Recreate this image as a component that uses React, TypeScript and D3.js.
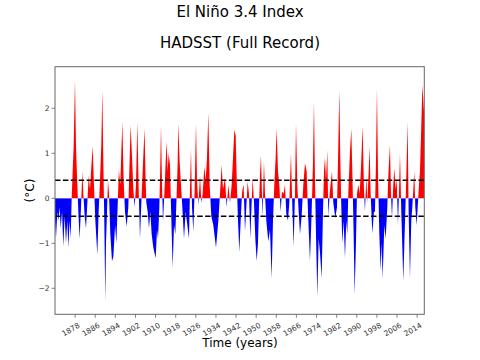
import React from "react";
import * as d3 from "d3";

// Niño 3.4 anomaly (°C)
const years = [
  1870.0, 1870.4, 1870.93, 1871.33, 1871.86, 1872.25, 1872.8, 1873.3, 1873.84, 1874.37,
  1874.9, 1875.3, 1875.83, 1876.23, 1876.63, 1877.02, 1877.42, 1877.95, 1878.35, 1878.88,
  1879.28, 1879.8, 1880.34, 1880.87, 1881.27, 1881.8, 1882.33, 1882.86, 1883.39, 1883.92,
  1884.45, 1884.98, 1885.5, 1886.04, 1886.83, 1887.36, 1887.9, 1888.42, 1888.82, 1889.22,
  1889.6, 1890.0, 1890.28, 1890.68, 1891.07, 1891.47, 1892.0, 1892.66, 1893.2, 1893.9,
  1894.4, 1894.9, 1895.4, 1895.96, 1896.77, 1897.3, 1897.83, 1898.5, 1899.15, 1899.55,
  1900.08, 1900.6, 1901.15, 1901.68, 1902.2, 1902.74, 1903.27, 1903.8, 1904.33, 1904.86,
  1905.6, 1906.0, 1906.32, 1906.85, 1907.38, 1907.9, 1908.44, 1909.1, 1910.03, 1910.56,
  1910.96, 1911.49, 1911.89, 1912.15, 1912.55, 1912.95, 1913.48, 1914.0, 1914.4, 1914.8,
  1915.2, 1915.73, 1916.13, 1916.79, 1917.32, 1917.85, 1918.38, 1918.78, 1919.04, 1919.57,
  1920.1, 1920.63, 1921.3, 1921.96, 1922.62, 1923.28, 1923.68, 1924.08, 1924.48, 1925.0,
  1925.54, 1926.07, 1926.47, 1927.0, 1927.66, 1928.19, 1928.72, 1929.38, 1929.9, 1930.44,
  1930.97, 1931.5, 1932.16, 1932.96, 1934.02, 1934.95, 1935.61, 1936.27, 1936.8, 1937.6,
  1938.26, 1938.93, 1939.59, 1940.25, 1940.78, 1941.31, 1941.84, 1942.37, 1942.77, 1943.3,
  1943.83, 1944.36, 1944.62, 1945.0, 1945.55, 1946.08, 1946.6, 1947.14, 1947.67, 1948.2,
  1948.6, 1949.13, 1949.66, 1950.19, 1950.72, 1951.11, 1951.51, 1951.91, 1952.3, 1952.57,
  1952.84, 1953.1, 1953.5, 1954.03, 1954.83, 1955.49, 1956.15, 1956.68, 1957.21, 1957.74,
  1958.14, 1958.67, 1959.2, 1959.73, 1960.26, 1960.92, 1961.45, 1961.98, 1962.65, 1963.18,
  1963.84, 1964.37, 1964.9, 1965.43, 1965.83, 1966.36, 1966.89, 1967.42, 1968.08, 1968.74,
  1969.4, 1970.07, 1970.6, 1971.39, 1972.06, 1972.59, 1972.98, 1973.38, 1973.78, 1974.31,
  1974.84, 1975.37, 1976.03, 1976.56, 1976.96, 1977.36, 1977.75, 1978.28, 1978.68, 1979.21,
  1980.14, 1980.67, 1981.47, 1982.13, 1982.53, 1983.06, 1983.45, 1983.85, 1984.25, 1984.78,
  1985.31, 1985.84, 1986.23, 1986.63, 1987.3, 1987.82, 1988.35, 1988.75, 1989.15, 1989.68,
  1990.08, 1990.6, 1991.14, 1991.67, 1992.33, 1992.86, 1993.26, 1993.79, 1994.19, 1994.72,
  1995.11, 1995.51, 1996.17, 1996.84, 1997.23, 1997.63, 1998.03, 1998.43, 1998.96, 1999.49,
  1999.89, 2000.28, 2000.95, 2001.48, 2002.14, 2002.54, 2003.2, 2003.6, 2004.0, 2004.52,
  2004.92, 2005.45, 2005.85, 2006.38, 2006.78, 2007.18, 2007.7, 2008.5, 2009.03, 2009.56,
  2010.22, 2010.62, 2011.15, 2011.68, 2012.08, 2012.48, 2012.87, 2013.27, 2013.8, 2014.33,
  2014.73, 2015.13, 2015.6, 2016.1, 2016.85,
];

const anomaly = [
  -0.5, -0.89, -0.3, -0.5, -0.2, -0.67, -0.3, -1.07, -0.4, -1.0,
  -0.5, -1.1, -0.5, -0.9, 0.0, 0.6, 1.15, 2.63, 1.15, 0.3,
  -0.3, -0.9, -0.2, 0.6, 0.1, -0.4, -0.67, -0.1, 0.5, 0.2,
  0.7, 1.15, 0.3, -0.5, -1.26, -0.3, 0.4, 1.2, 2.4, 0.8,
  -0.5, -2.3, -1.0, -0.3, 0.4, 0.1, -0.8, -1.4, -1.3, -0.6,
  -1.0, -0.2, 0.63, 0.3, 1.7, 0.4, -0.3, -0.63, -0.2, 0.6,
  1.63, 0.96, 0.2, -0.2, 0.3, 1.7, 0.2, -0.9, -0.1, 0.6,
  1.55, 0.5, -0.1, -0.3, -0.67, -0.3, -0.8, -1.1, -1.33, -0.7,
  -0.9, -0.2, 0.8, 1.63, 0.3, -0.52, 0.1, 0.8, 1.26, 0.6,
  1.0, 0.74, -0.2, -1.55, -0.6, -0.8, 0.1, 0.8, 1.67, 0.8,
  0.3, -0.2, -0.9, -0.3, -0.6, -0.9, 0.2, 1.1, -0.2, -0.74,
  0.2, 1.67, 0.4, -0.15, 0.5, -0.1, 0.1, 0.7, 0.4, 0.9,
  1.9, 0.3, -0.4, -0.6, -1.1, -0.5, 0.1, 0.74, 0.2, 0.45,
  -0.2, 0.3, -0.1, 0.3, 0.9, 1.52, 1.4, 0.2, -0.5, -1.2,
  -0.5, 0.1, 0.22, 0.3, -0.74, -0.2, 0.37, 0.1, -0.9, -0.1,
  0.44, -0.1, -0.9, -1.4, -1.0, -0.2, 0.5, 0.96, 0.1, -0.44,
  0.3, 0.81, 0.1, -0.5, -0.96, -0.7, -1.78, -0.5, 0.3, 0.9,
  1.55, 0.6, 0.3, -0.3, 0.15, 0.1, 0.3, -0.35, -0.5, -0.1,
  1.0, -0.2, -1.07, 0.1, 1.67, 0.3, -0.3, -0.8, -0.4, 0.3,
  0.78, 0.6, -0.3, -1.4, -0.3, 0.8, 2.15, 0.4, -0.8, -2.19,
  -0.9, -1.2, -1.78, -0.3, 0.6, 0.9, 0.4, 1.07, -0.4, 0.1,
  0.6, -0.1, -0.44, -0.2, 0.8, 2.4, 0.9, -0.2, -1.0, -0.5,
  -1.33, -0.5, -0.8, 0.1, 1.04, 1.55, 0.3, -0.8, -2.15, -1.0,
  0.1, 0.3, 0.1, 0.67, 1.6, 0.2, -0.3, 0.5, -0.1, 0.6,
  1.15, 0.1, -0.78, -0.3, -0.3, 0.8, 2.44, 0.6, -0.8, -1.6,
  -1.0, -1.78, -0.6, -0.9, -0.2, 0.5, 1.19, 0.1, -0.44, 0.3,
  0.67, 0.2, 0.44, -0.59, 0.1, 1.0, -0.3, -1.85, -0.8, 0.2,
  1.7, -0.3, -1.78, -0.5, -0.2, 0.2, 0.6, -0.2, -0.6, -0.1,
  0.3, 0.6, 1.5, 2.52, 1.8,
];

const xTicks = [1878, 1886, 1894, 1902, 1910, 1918, 1926, 1934, 1942, 1950, 1958, 1966, 1974, 1982, 1990, 1998, 2006, 2014];
const yTicks = [-2, -1, 0, 1, 2];
const thresholds = [0.4, -0.4];

const FONT = "'DejaVu Sans', sans-serif";

export default function App() {
  const left = 55, right = 424.3, top = 66.7, bottom = 314.3;
  const x = d3.scaleLinear().domain([1870, 2016.85]).range([left, right]);
  const y = d3.scaleLinear().domain([-2.578, 2.924]).range([bottom, top]);
  const data = years.map((t, i) => ({ t, v: anomaly[i] }));
  const area = d3
    .area<{ t: number; v: number }>()
    .x((d) => x(d.t))
    .y0(y(0))
    .y1((d) => y(d.v))
    .curve(d3.curveLinear);
  const path = area(data) || "";
  const y0 = y(0);
  const fmt = (v: number) => (v < 0 ? "\u2212" + Math.abs(v) : String(v));

  return (
    <svg
      width={480}
      height={360}
      style={{ position: "absolute", left: 0, top: 0, background: "#fff" }}
      fontFamily={FONT}
    >
      <defs>
        <clipPath id="clipAbove">
          <rect x={left} y={top} width={right - left} height={y0 - top} />
        </clipPath>
        <clipPath id="clipBelow">
          <rect x={left} y={y0} width={right - left} height={bottom - y0} />
        </clipPath>
      </defs>
      <text x={240} y={17.3} textAnchor="middle" fontSize={15} fill="#000">
        El Niño 3.4 Index
      </text>
      <text x={240} y={47.7} textAnchor="middle" fontSize={15} fill="#000">
        HADSST (Full Record)
      </text>

      <path d={path} fill="#ff0000" clipPath="url(#clipAbove)" />
      <path d={path} fill="#0000ff" clipPath="url(#clipBelow)" />

      {thresholds.map((th) => (
        <line
          key={th}
          x1={left}
          x2={right}
          y1={y(th)}
          y2={y(th)}
          stroke="#000"
          strokeWidth={1.5}
          strokeDasharray="5.5 2.4"
        />
      ))}

      <rect x={left} y={top} width={right - left} height={bottom - top} fill="none" stroke="#666" strokeWidth={1} />

      {yTicks.map((v) => (
        <g key={v}>
          <line x1={left - 3.5} x2={left} y1={y(v)} y2={y(v)} stroke="#666" strokeWidth={0.8} />
          <text x={left - 5.5} y={y(v)} dy="0.32em" textAnchor="end" fontSize={7.5} fill="#333">
            {fmt(v)}
          </text>
        </g>
      ))}

      {xTicks.map((t) => (
        <g key={t}>
          <line x1={x(t)} x2={x(t)} y1={bottom} y2={bottom + 3.5} stroke="#666" strokeWidth={0.8} />
          <text
            transform={`translate(${x(t) + 2.5},${bottom + 8}) rotate(-30)`}
            dy="0.72em"
            textAnchor="end"
            fontSize={7.5}
            fill="#333"
          >
            {t}
          </text>
        </g>
      ))}

      <text x={240} y={347} textAnchor="middle" fontSize={12} fill="#000">
        Time (years)
      </text>
      <text transform="translate(34,190.5) rotate(-90)" textAnchor="middle" fontSize={12} fill="#000">
        (°C)
      </text>
    </svg>
  );
}
